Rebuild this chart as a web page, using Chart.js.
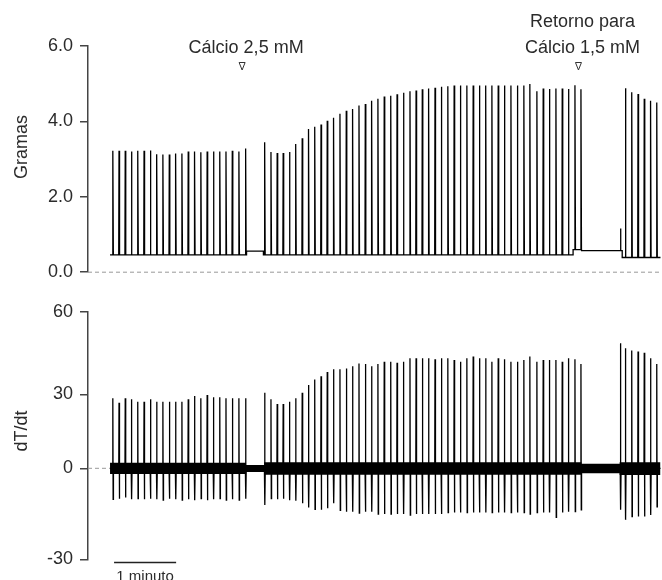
<!DOCTYPE html>
<html lang="pt">

<head>
    <meta charset="UTF-8">
    <title>Força e dT/dt</title>
    <script src="https://cdn.jsdelivr.net/npm/chart.js"></script>
    <style>
        body {
            margin: 0;
            background: #fff;
        }

        .wrap {
            position: relative;
            width: 662px;
            height: 580px;
        }

        .wrap canvas {
            position: absolute;
            left: 0;
        }

        #forceChart { top: 0; }
        #dtChart { top: 290px; }
    </style>
</head>

<body>
    <div class="wrap">
        <canvas id="forceChart" width="662" height="290"></canvas>
        <canvas id="dtChart" width="662" height="290"></canvas>
    </div>
    <script>
        // time of each contraction (s)
        const spikeTimes = [
            24.0, 30.0, 36.0, 42.0, 48.1, 54.2, 60.3, 66.4, 72.4, 78.6, 84.7, 90.8, 96.9, 103.0, 109.1,
            115.2, 121.3, 127.4, 133.4, 139.5, 145.9, 152.4,
            170.8, 176.9, 182.9, 188.7, 194.8, 200.8, 207.1, 213.2, 219.2, 225.3,
            231.3, 237.4, 243.6, 249.7, 255.8, 262.0, 268.1, 274.2, 280.3, 286.4,
            292.7, 298.8, 305.0, 311.3, 317.2, 323.2, 329.3, 335.5, 341.6, 347.9,
            354.0, 360.0, 366.3, 372.4, 378.4, 384.5, 390.5, 396.6, 402.6, 408.9,
            415.1, 421.4, 427.2, 434.0, 440.1, 446.1, 452.4, 458.5, 464.5, 470.8, 476.6,
            514.8, 519.6, 525.7, 531.8, 537.8, 543.9, 549.9
        ];

        // peak tension (g)
        const forcePeaks = [
            3.22, 3.22, 3.22, 3.2, 3.22, 3.22, 3.23, 3.13, 3.12, 3.12, 3.15, 3.15, 3.2, 3.2, 3.18,
            3.2, 3.2, 3.2, 3.2, 3.22, 3.2, 3.28,
            3.45, 3.19, 3.16, 3.16, 3.19, 3.4, 3.55, 3.8, 3.86, 3.92,
            4.02, 4.1, 4.2, 4.28, 4.33, 4.42, 4.46, 4.55, 4.6, 4.66,
            4.68, 4.72, 4.76, 4.8, 4.82, 4.85, 4.87, 4.89, 4.92, 4.93,
            4.95, 4.95, 4.95, 4.95, 4.95, 4.95, 4.95, 4.95, 4.95, 4.95,
            4.95, 4.95, 4.99, 4.8, 4.87, 4.86, 4.87, 4.87, 4.86, 4.96, 4.85,
            1.16, 4.88, 4.77, 4.73, 4.6, 4.55, 4.5
        ];

        // dT/dt maximum and minimum for each contraction
        const dtPeaks = [
            28.4, 26.6, 28.4, 28.0, 27.0, 27.0, 28.0, 27.0, 27.0, 27.0, 27.0, 27.0, 28.0, 29.3, 28.4,
            29.7, 28.8, 28.8, 28.4, 28.4, 28.4, 28.4,
            30.6, 28.0, 26.1, 26.1, 27.0, 28.4, 30.6, 33.4, 35.4, 36.6,
            38.1, 39.1, 39.1, 39.4, 40.2, 41.2, 41.0, 40.2, 41.0, 41.8,
            41.8, 41.5, 41.8, 43.1, 43.1, 43.1, 43.1, 42.7, 43.1, 43.1,
            42.5, 41.8, 43.1, 43.7, 43.1, 43.1, 41.8, 43.1, 42.7, 41.8,
            41.8, 42.5, 43.7, 41.8, 42.5, 42.5, 42.5, 41.8, 43.1, 42.7, 41.0,
            48.5, 46.7, 45.9, 45.5, 45.1, 43.1, 41.0
        ];
        const dtTroughs = [
            -10.2, -10, -9.6, -10.2, -10, -10.2, -10, -10.2, -10.5, -10, -10.2, -10.5, -10.2, -10.5, -10,
            -10.5, -10.2, -10, -10.5, -10.2, -10.5, -10,
            -12.1, -10, -10.2, -10, -10.5, -10.7, -11.5, -12.9, -13.5, -13.7,
            -13.2, -11.5, -13.9, -14.3, -14.3, -14.8, -14.3, -14.3, -15.1, -15.1,
            -15.1, -15.1, -15.1, -15.4, -15.1, -15.1, -15.1, -15.1, -15.1, -14.6,
            -14.6, -14.6, -14.6, -14.6, -14.6, -14.6, -14.6, -14.6, -14.6, -14.6,
            -14.6, -14.6, -15.1, -14.6, -14.6, -14.6, -16.2, -14.6, -14.3, -14.3, -13.7,
            -13.7, -17.0, -15.9, -15.9, -15.9, -15.4, -12.7
        ];

        // resting tension between contractions (g)
        const restStart = [21.3, 153.3, 169.6, 469.0, 477.2, 516.5];
        const restEnd = [153.3, 169.6, 469.0, 477.2, 516.5, 553.5];
        const restLevel = [0.46, 0.56, 0.46, 0.6, 0.57, 0.39];

        // width of the dT/dt baseline noise
        const noiseStart = [21.3, 152.8, 170.3, 477.0, 514.0];
        const noiseEnd = [152.8, 170.3, 477.0, 514.0, 553.5];
        const noiseHigh = [2.3, 1.3, 2.5, 1.8, 2.5];
        const noiseLow = [-1.9, -1.2, -2.1, -1.6, -2.2];

        const gramTicks = [0, 2, 4, 6];
        const dtTicks = [-30, 0, 30, 60];

        // markers
        const markTimes = [149.0, 474.2];
        const markLabels = [['Cálcio 2,5 mM'], ['Retorno para', 'Cálcio 1,5 mM']];
        const barStart = 25.2;
        const barLength = 60;

        // the dT/dt axis of the figure is not evenly spaced
        const dtKnotValues = [-30, 0, 30, 60];
        const dtKnotDecimals = [0, 0.3675, 0.6664, 1];

        class PiecewiseScale extends Chart.LinearScale {
            getPixelForValue(value) {
                if (value === null || value === undefined || isNaN(value)) return NaN;
                let i = 0;
                while (i < dtKnotValues.length - 2 && value > dtKnotValues[i + 1]) i++;
                const v0 = dtKnotValues[i], v1 = dtKnotValues[i + 1];
                const d0 = dtKnotDecimals[i], d1 = dtKnotDecimals[i + 1];
                return this.getPixelForDecimal(d0 + (value - v0) / (v1 - v0) * (d1 - d0));
            }
        }
        PiecewiseScale.id = 'piecewise';
        PiecewiseScale.defaults = Chart.LinearScale.defaults;
        Chart.register(PiecewiseScale);

        const FONT = '"Liberation Sans", Arial, sans-serif';
        const INK = '#2b2b2b';
        const AXIS = '#444';

        function forcePoints() {
            const pts = [];
            restStart.forEach((s, i) => {
                pts.push({ x: s, y: restLevel[i] }, { x: restEnd[i], y: restLevel[i] });
            });
            spikeTimes.forEach((t, i) => {
                const seg = restStart.findIndex((s, j) => t >= s && t < restEnd[j]);
                const base = restLevel[seg];
                pts.push({ x: t - 0.3, y: base }, { x: t, y: forcePeaks[i] }, { x: t + 0.5, y: base });
            });
            return pts.sort((a, b) => a.x - b.x);
        }

        function dtPoints() {
            const pts = [{ x: restStart[0], y: 0 }];
            spikeTimes.forEach((t, i) => {
                pts.push({ x: t - 0.25, y: 0 }, { x: t, y: dtPeaks[i] },
                    { x: t + 0.3, y: dtTroughs[i] }, { x: t + 0.6, y: 0 });
            });
            pts.push({ x: restEnd[restEnd.length - 1], y: 0 });
            return pts;
        }

        function bandPoints(values) {
            const pts = [];
            noiseStart.forEach((s, i) => {
                pts.push({ x: s, y: values[i] }, { x: noiseEnd[i], y: values[i] });
            });
            return pts;
        }

        function yAxis(extra) {
            return Object.assign({
                afterFit: s => { s.width = 88; },
                ticks: { color: INK, font: { family: FONT, size: 18 }, padding: 7 },
                grid: { drawOnChartArea: false, tickLength: 8, color: AXIS, lineWidth: 1.5 },
                border: { color: AXIS, width: 1.5 }
            }, extra);
        }

        // dashed zero reference, drawn behind the traces
        const zeroLine = {
            data: [{ x: 0, y: 0 }, { x: 554, y: 0 }],
            borderColor: '#999', borderWidth: 1, borderDash: [4, 3], pointRadius: 0,
            clip: false, order: 10
        };

        const forceNotes = {
            id: 'forceNotes',
            afterDraw(chart) {
                const { ctx, scales: { x } } = chart;
                ctx.save();
                ctx.fillStyle = INK;
                ctx.strokeStyle = '#333';
                ctx.lineWidth = 1;
                ctx.font = '18px ' + FONT;
                ctx.textAlign = 'center';
                markTimes.forEach((t, i) => {
                    const px = x.getPixelForValue(t);
                    const lines = markLabels[i];
                    lines.forEach((s, j) => {
                        ctx.fillText(s, px + 4, 53 - (lines.length - 1 - j) * 26);
                    });
                    ctx.beginPath();
                    ctx.moveTo(px - 3, 62.5);
                    ctx.lineTo(px + 3, 62.5);
                    ctx.lineTo(px, 70);
                    ctx.closePath();
                    ctx.stroke();
                });
                ctx.translate(22, 147);
                ctx.rotate(-Math.PI / 2);
                ctx.textBaseline = 'middle';
                ctx.fillText('Gramas', 0, 0);
                ctx.restore();
            }
        };

        const dtNotes = {
            id: 'dtNotes',
            afterDraw(chart) {
                const { ctx, scales: { x } } = chart;
                ctx.save();
                ctx.strokeStyle = '#222';
                ctx.lineWidth = 1.5;
                const x0 = x.getPixelForValue(barStart);
                const x1 = x.getPixelForValue(barStart + barLength);
                ctx.beginPath();
                ctx.moveTo(x0, 272.5);
                ctx.lineTo(x1, 272.5);
                ctx.stroke();
                ctx.fillStyle = INK;
                ctx.font = '15px ' + FONT;
                ctx.textAlign = 'center';
                ctx.fillText('1 minuto', (x0 + x1) / 2, 291);
                ctx.font = '18px ' + FONT;
                ctx.translate(22, 141);
                ctx.rotate(-Math.PI / 2);
                ctx.textBaseline = 'middle';
                ctx.fillText('dT/dt', 0, 0);
                ctx.restore();
            }
        };

        const common = {
            responsive: false,
            animation: false,
            events: [],
            parsing: false,
            plugins: { legend: { display: false }, tooltip: { enabled: false } }
        };

        new Chart(document.getElementById('forceChart'), {
            type: 'line',
            data: {
                datasets: [
                    zeroLine,
                    {
                        data: forcePoints(),
                        borderColor: '#000', borderWidth: 1.3, pointRadius: 0, tension: 0, order: 1
                    }
                ]
            },
            options: Object.assign({}, common, {
                layout: { padding: { top: 46, right: 1, bottom: 17.5, left: 0 } },
                scales: {
                    x: { type: 'linear', min: 0, max: 554, display: false },
                    y: yAxis({
                        min: 0, max: 6,
                        afterBuildTicks: s => { s.ticks = gramTicks.map(v => ({ value: v })); },
                        ticks: {
                            color: INK, font: { family: FONT, size: 18 }, padding: 7,
                            callback: v => v.toFixed(1)
                        }
                    })
                }
            }),
            plugins: [forceNotes]
        });

        new Chart(document.getElementById('dtChart'), {
            type: 'line',
            data: {
                datasets: [
                    zeroLine,
                    {
                        data: bandPoints(noiseHigh),
                        borderWidth: 0, pointRadius: 0, tension: 0,
                        backgroundColor: '#000', fill: '+1', order: 2
                    },
                    {
                        data: bandPoints(noiseLow),
                        borderWidth: 0, pointRadius: 0, tension: 0, order: 3
                    },
                    {
                        data: dtPoints(),
                        borderColor: '#000', borderWidth: 1.3, pointRadius: 0, tension: 0, order: 1
                    }
                ]
            },
            options: Object.assign({}, common, {
                layout: { padding: { top: 21.7, right: 1, bottom: 20.7, left: 0 } },
                scales: {
                    x: { type: 'linear', min: 0, max: 554, display: false },
                    y: yAxis({
                        type: 'piecewise',
                        min: -30, max: 60,
                        afterBuildTicks: s => { s.ticks = dtTicks.map(v => ({ value: v })); }
                    })
                }
            }),
            plugins: [dtNotes]
        });
    </script>
</body>

</html>
